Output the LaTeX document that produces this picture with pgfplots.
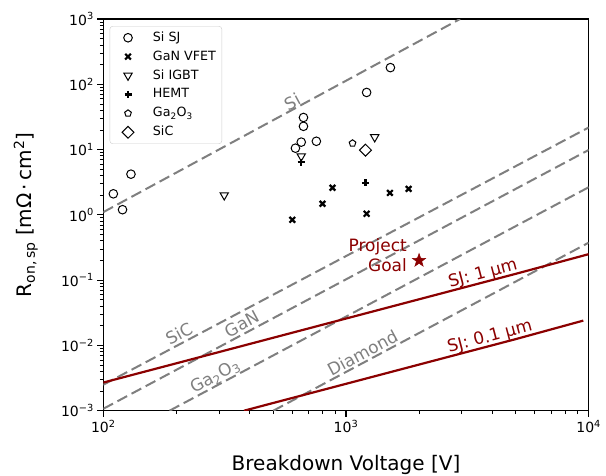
\documentclass[border=0pt]{standalone}
\usepackage{fontspec}
\setmainfont{DejaVu Sans}
\usepackage{pgfplots}
\pgfplotsset{compat=1.18}
\definecolor{dred}{HTML}{8B0000}
\definecolor{dgray}{HTML}{7F7F7F}
\definecolor{lgray}{HTML}{CCCCCC}
\pgfdeclareplotmark{fstar}{%
  \pgfpathmoveto{\pgfpointpolar{90}{\pgfplotmarksize}}%
  \pgfpathlineto{\pgfpointpolar{126}{0.4\pgfplotmarksize}}%
  \pgfpathlineto{\pgfpointpolar{162}{\pgfplotmarksize}}%
  \pgfpathlineto{\pgfpointpolar{198}{0.4\pgfplotmarksize}}%
  \pgfpathlineto{\pgfpointpolar{234}{\pgfplotmarksize}}%
  \pgfpathlineto{\pgfpointpolar{270}{0.4\pgfplotmarksize}}%
  \pgfpathlineto{\pgfpointpolar{306}{\pgfplotmarksize}}%
  \pgfpathlineto{\pgfpointpolar{342}{0.4\pgfplotmarksize}}%
  \pgfpathlineto{\pgfpointpolar{18}{\pgfplotmarksize}}%
  \pgfpathlineto{\pgfpointpolar{54}{0.4\pgfplotmarksize}}%
  \pgfpathclose
  \pgfusepathqfillstroke
}
\begin{document}
\begin{tikzpicture}[x=1pt,y=1pt]
\useasboundingbox (0,0) rectangle (606,475);
\begin{axis}[
  at={(103.3pt,64.3pt)}, anchor=south west,
  width=485.4pt, height=391.7pt, scale only axis,
  xmode=log, ymode=log,
  xmin=100, xmax=10000, ymin=1e-3, ymax=1e3,
  xtick={100,1000,10000},
  xticklabels={10\textsuperscript{2},10\textsuperscript{3},10\textsuperscript{4}},
  ytick={1e-3,1e-2,1e-1,1,10,100,1000},
  yticklabels={10\textsuperscript{−3},10\textsuperscript{−2},10\textsuperscript{−1},10\textsuperscript{0},10\textsuperscript{1},10\textsuperscript{2},10\textsuperscript{3}},
  tick label style={font=\fontsize{14}{16}\selectfont},
  tick align=outside, xtick pos=bottom, ytick pos=left,
  major tick length=6pt, minor tick length=3.5pt,
  every tick/.style={black, line width=1.1pt},
  every minor tick/.style={black, line width=0.8pt},
  axis line style={line width=1.5pt},
  xlabel={Breakdown Voltage [V]},
  ylabel={R\textsubscript{on,\,sp} [mΩ\,·\,cm\textsuperscript{2}]},
  xlabel style={at={(axis description cs:0.5,-0.1514)}, anchor=base, font=\fontsize{20}{24}\selectfont},
  ylabel style={at={(axis description cs:-0.1475,0.5)}, anchor=base, font=\fontsize{20}{24}\selectfont},
  legend style={at={(0.013,0.982)}, anchor=north west, draw=lgray, rounded corners=3pt,
    fill=white, font=\fontsize{12.7}{15}\selectfont, row sep=3.9pt, column sep=10.7pt,
    inner xsep=5pt, inner ysep=4pt,
    nodes={inner sep=1pt, text height=10pt, text depth=3pt}},
  legend image code/.code={\path (-12pt,0pt) (12pt,0pt); \draw[only marks] plot coordinates {(0pt,0pt)};},
  legend cell align=left,
]
% unipolar limits
\addplot[dgray, line width=2pt, dash pattern=on 11pt off 5pt, forget plot] coordinates {(100,1.1) (2951,1000)};
\addplot[dgray, line width=2pt, dash pattern=on 11pt off 5pt, forget plot] coordinates {(100,0.0025) (10000,21.8)};
\addplot[dgray, line width=2pt, dash pattern=on 11pt off 5pt, forget plot] coordinates {(100,0.00107) (10000,9.86)};
\addplot[dgray, line width=2pt, dash pattern=on 11pt off 5pt, forget plot] coordinates {(187.5,0.001) (10000,2.65)};
\addplot[dgray, line width=2pt, dash pattern=on 11pt off 5pt, forget plot] coordinates {(501.7,0.001) (10000,0.375)};
% SJ lines
\addplot[dred, line width=2.2pt, forget plot] coordinates {(100,0.0027) (200,0.00532) (500,0.01307) (1000,0.0258) (2000,0.0509) (5000,0.1248) (10000,0.25)};
\addplot[dred, line width=2.2pt, forget plot] coordinates {(380,0.001) (500,0.00131) (1000,0.00258) (2000,0.00509) (5000,0.01248) (9500,0.0240)};
% data
\addplot[only marks, mark=o, mark size=4.3pt, black, line width=1pt] coordinates {
(110,2.1) (120,1.2) (130,4.2) (619,10.5) (654,13) (668,22.7) (668,31) (755,13.4) (1216,75) (1524,180)};
\addlegendentry{Si SJ}
\addplot[only marks, mark=x, mark size=4pt, black, line width=2.2pt] coordinates {
(601,0.84) (800,1.48) (880,2.6) (1216,1.04) (1517,2.17) (1811,2.5)};
\addlegendentry{GaN VFET}
\addplot[only marks, mark=triangle, mark size=4.8pt, mark options={rotate=180}, black, line width=1pt] coordinates {
(315,2.0) (654,7.9) (1313,15.5)};
\addlegendentry{Si IGBT}
\addplot[only marks, mark=+, mark size=3.5pt, black, line width=2.4pt] coordinates {
(654,6.4) (1203,3.1)};
\addlegendentry{HEMT}
\addplot[only marks, mark=pentagon, mark size=3.5pt, black, line width=1pt] coordinates {
(1064,12.5)};
\addlegendentry{Ga\textsubscript{2}O\textsubscript{3}}
\addplot[only marks, mark=square, mark size=4.2pt, mark options={rotate=45}, black, line width=1pt] coordinates {
(1203,9.8)};
\addlegendentry{SiC}
\addplot[only marks, mark=fstar, mark size=7pt, dred, fill=dred, line width=0.5pt, forget plot] coordinates {(2000,0.2)};
% labels
\node[rotate=28.3, text=dgray, font=\fontsize{17}{20}\selectfont] at (axis cs:600,54) {Si};
\node[rotate=28.3, text=dgray, font=\fontsize{17}{20}\selectfont] at (axis cs:205,0.0150) {SiC};
\node[rotate=28.3, text=dgray, font=\fontsize{17}{20}\selectfont] at (axis cs:372,0.0213) {GaN};
\node[rotate=28.3, text=dgray, font=\fontsize{17}{20}\selectfont] at (axis cs:289,0.0033) {Ga\textsubscript{2}O\textsubscript{3}};
\node[rotate=28.3, text=dgray, font=\fontsize{17}{20}\selectfont] at (axis cs:1169,0.00767) {Diamond};
\node[rotate=14.8, text=dred, font=\fontsize{17}{20}\selectfont] at (axis cs:3668,0.1245) {SJ: 1 µm};
\node[rotate=14.8, text=dred, font=\fontsize{17}{20}\selectfont] at (axis cs:3918,0.01327) {SJ: 0.1 µm};
\node[anchor=east, align=right, inner sep=0pt, text=dred, font=\fontsize{17}{20}\selectfont] at (axis cs:1784,0.243) {Project\\Goal};
\end{axis}
\end{tikzpicture}
\end{document}
